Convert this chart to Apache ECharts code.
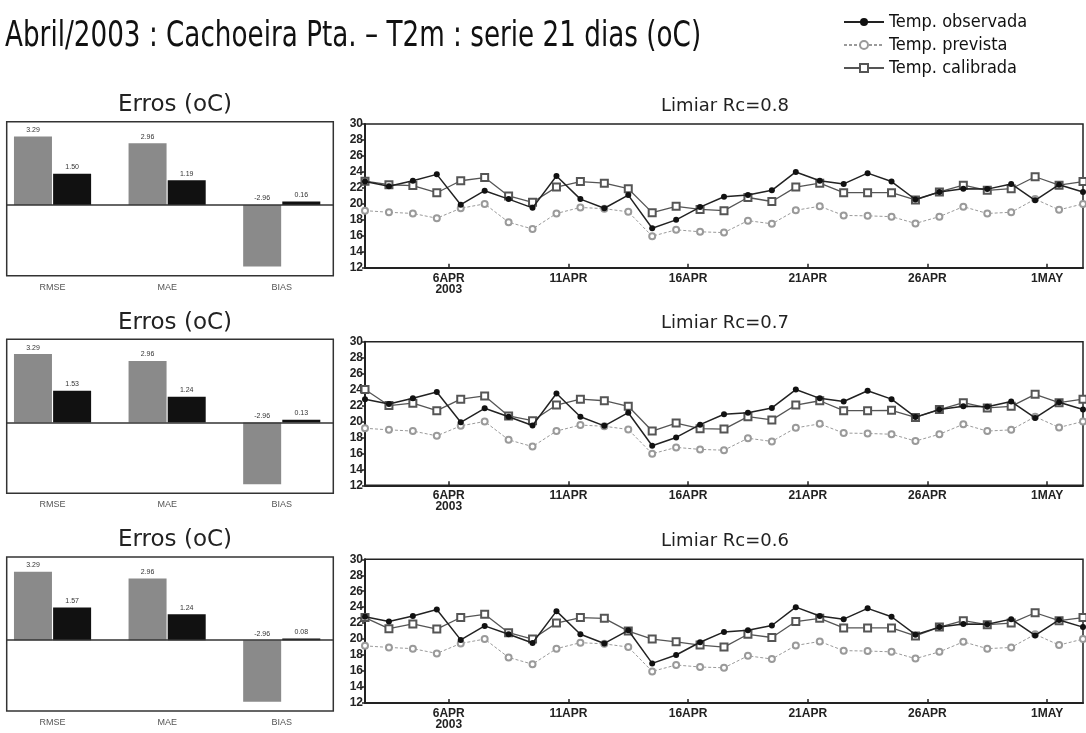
<!DOCTYPE html>
<html><head><meta charset="utf-8">
<script src="https://cdn.jsdelivr.net/npm/echarts@6/dist/echarts.min.js"></script>
<style>html,body{margin:0;padding:0;background:#fff}#c{width:1086px;height:733px}</style>
</head><body><div id="c"></div>
<script>
// ---------- data ----------
const mainTitle = 'Abril/2003 : Cachoeira Pta. \u2013 T2m : serie 21 dias (oC)';
const seriesNames = ['Temp. observada', 'Temp. prevista', 'Temp. calibrada'];
const errCategories = ['RMSE', 'MAE', 'BIAS'];
const thresholds = ['0.8', '0.7', '0.6'];
// x positions (days from first sample, 2APR 12Z) of the date ticks
const tickPositions = [3.5, 8.5, 13.5, 18.5, 23.5, 28.5];
const tickLabels = ['6APR\n2003', '11APR', '16APR', '21APR', '26APR', '1MAY'];

const observed = [22.8, 22.2, 22.9, 23.7, 19.9, 21.65, 20.6, 19.5, 23.5, 20.6, 19.45, 21.1, 16.95, 18.0, 19.6,
  20.9, 21.1, 21.7, 24.0, 22.9, 22.5, 23.85, 22.8, 20.55, 21.5, 21.9, 21.85, 22.5, 20.45, 22.4, 21.5];
const forecast = [19.15, 18.95, 18.8, 18.2, 19.45, 20.0, 17.7, 16.85, 18.8, 19.55, 19.4, 19.0, 15.95, 16.75, 16.5,
  16.4, 17.9, 17.5, 19.2, 19.7, 18.55, 18.5, 18.4, 17.55, 18.4, 19.65, 18.8, 18.95, 20.6, 19.25, 20.0];
const calib08 = [22.85, 22.4, 22.3, 21.4, 22.9, 23.3, 21.0, 20.2, 22.1, 22.8, 22.6, 21.9, 18.9, 19.7, 19.3,
  19.15, 20.8, 20.3, 22.1, 22.6, 21.4, 21.4, 21.4, 20.5, 21.5, 22.35, 21.7, 21.9, 23.4, 22.35, 22.8];
const calib07 = [24.0, 22.0, 22.3, 21.35, 22.8, 23.2, 20.7, 20.1, 22.06, 22.8, 22.6, 21.9, 18.8, 19.8, 19.1,
  19.05, 20.6, 20.2, 22.06, 22.6, 21.35, 21.35, 21.4, 20.5, 21.5, 22.35, 21.7, 21.9, 23.4, 22.35, 22.8];
const calib06 = [22.7, 21.3, 21.9, 21.25, 22.7, 23.1, 20.8, 20.0, 22.0, 22.7, 22.6, 21.0, 20.0, 19.65, 19.25,
  19.0, 20.6, 20.2, 22.2, 22.6, 21.4, 21.4, 21.4, 20.4, 21.5, 22.3, 21.8, 22.0, 23.3, 22.3, 22.7];
const calibrated = [calib08, calib07, calib06];

// error statistics (RMSE, MAE, BIAS)
const errForecast = [3.29, 2.96, -2.96];
const errCalib08 = [1.50, 1.19, 0.16];
const errCalib07 = [1.53, 1.24, 0.13];
const errCalib06 = [1.57, 1.24, 0.08];
const errCalibrated = [errCalib08, errCalib07, errCalib06];

// ---------- layout ----------
const panelStep = 217.6;
const lineTop0 = 124.1, lineH = 143.6, lineLeft = 365, lineW = 718;
const barTop0 = 121.7, barH = 154, barLeft = 6.7, barW = 326.6;
const narrow = "'Liberation Sans Narrow','DejaVu Sans Condensed',sans-serif";
const wide = "'DejaVu Sans',Verdana,sans-serif";

const toXY = arr => arr.map((v, i) => [i, v]);
const nearestLabel = (v, pos, labels) => {
  let b = 0; for (let i = 1; i < pos.length; i++) if (Math.abs(pos[i] - v) < Math.abs(pos[b] - v)) b = i;
  return labels[b];
};

const grid = [], xAxis = [], yAxis = [], series = [], title = [];

for (let p = 0; p < 3; p++) {
  const lt = lineTop0 + p * panelStep, bt = barTop0 + p * panelStep;
  grid.push({ left: barLeft, top: bt, width: barW, height: barH, show: true, borderColor: '#333', borderWidth: 1.5, backgroundColor: 'transparent' });
  grid.push({ left: lineLeft, top: lt, width: lineW, height: lineH, show: true, borderColor: '#222', borderWidth: 1.5, backgroundColor: 'transparent' });
  const gb = 2 * p, gl = 2 * p + 1;

  xAxis.push({
    gridIndex: gb, type: 'value', min: -0.4, max: 2.45,
    axisLine: { show: false }, axisTick: { show: false }, splitLine: { show: false },
    axisLabel: { customValues: [0, 1, 2], formatter: v => errCategories[Math.round(v)], fontSize: 9, color: '#555', margin: 7, fontFamily: 'Liberation Sans, sans-serif' }
  });
  yAxis.push({ gridIndex: gb, type: 'value', min: -3.4, max: 4.0, show: false, splitLine: { show: false } });

  xAxis.push({
    gridIndex: gl, type: 'value', min: 0, max: 30,
    axisLine: { show: true, lineStyle: { color: '#222', width: 2 } },
    axisTick: { show: true, customValues: tickPositions, inside: true, length: 4, lineStyle: { color: '#222', width: 1.5 } },
    splitLine: { show: false },
    axisLabel: { customValues: tickPositions, formatter: v => nearestLabel(v, tickPositions, tickLabels), fontSize: 12, fontWeight: 'bold', color: '#222', margin: 5, lineHeight: 11, fontFamily: 'Liberation Sans, Arial, sans-serif' }
  });
  yAxis.push({
    gridIndex: gl, type: 'value', min: 12, max: 30, interval: 2,
    axisLine: { show: true, lineStyle: { color: '#222', width: 2 } },
    axisTick: { show: true, length: 3, lineStyle: { color: '#222', width: 1.5 } },
    splitLine: { show: false },
    axisLabel: { fontSize: 12, fontWeight: 'bold', color: '#222', margin: 2, fontFamily: 'Liberation Sans, Arial, sans-serif' }
  });

  title.push({ text: 'Erros (oC)', left: barLeft + barW / 2, textAlign: 'center', top: bt - 33, textStyle: { fontFamily: wide, fontSize: 23, fontWeight: 'normal', color: '#222' } });
  title.push({ text: 'Limiar Rc=' + thresholds[p], left: lineLeft + lineW / 2 - 4, textAlign: 'center', top: lt - 32, textStyle: { fontFamily: wide, fontSize: 18, fontWeight: 'normal', color: '#222' } });

  const barLabel = { show: true, position: 'top', distance: 3, fontSize: 7, color: '#333', formatter: prm => prm.value[1].toFixed(2) };
  series.push({
    type: 'bar', xAxisIndex: gb, yAxisIndex: gb, barWidth: 38, barGap: '3%',
    itemStyle: { color: '#8a8a8a' }, label: barLabel,
    data: errForecast.map((v, i) => [i, v]),
    markLine: { silent: true, symbol: 'none', label: { show: false }, lineStyle: { color: '#333', width: 1.5, type: 'solid' }, data: [{ yAxis: 0 }] }
  });
  series.push({
    type: 'bar', xAxisIndex: gb, yAxisIndex: gb, barWidth: 38, barGap: '3%',
    itemStyle: { color: '#111' }, label: barLabel,
    data: errCalibrated[p].map((v, i) => [i, v])
  });

  series.push({
    name: seriesNames[1], type: 'line', xAxisIndex: gl, yAxisIndex: gl, data: toXY(forecast), z: 2,
    symbol: 'emptyCircle', symbolSize: 6, color: '#9a9a9a',
    lineStyle: { color: '#9a9a9a', width: 1, type: [3, 2] }, itemStyle: { color: '#9a9a9a', borderWidth: 1 }
  });
  series.push({
    name: seriesNames[2], type: 'line', xAxisIndex: gl, yAxisIndex: gl, data: toXY(calibrated[p]), z: 3,
    symbol: 'emptyRect', symbolSize: 7, color: '#555',
    lineStyle: { color: '#555', width: 1.3 }, itemStyle: { color: '#555', borderWidth: 1.2 }
  });
  series.push({
    name: seriesNames[0], type: 'line', xAxisIndex: gl, yAxisIndex: gl, data: toXY(observed), z: 4,
    symbol: 'circle', symbolSize: 6, color: '#222',
    lineStyle: { color: '#222', width: 1.5 }, itemStyle: { color: '#111' }
  });
}

const chart = echarts.init(document.getElementById('c'), null, { renderer: 'canvas' });
chart.setOption({
  backgroundColor: '#fff', animation: false,
  title, grid, xAxis, yAxis, series,
  graphic: [{
    type: 'text', x: 5, y: 19, scaleX: 0.81, scaleY: 1,
    style: { text: mainTitle, fontFamily: narrow, fontSize: 36, fill: '#111', textVerticalAlign: 'top', verticalAlign: 'top' }
  }],
  legend: {
    data: seriesNames, orient: 'vertical', left: 838, top: 8, itemWidth: 40, itemHeight: 10, itemGap: 5,
    textStyle: { fontFamily: narrow, fontSize: 18, color: '#111' }
  }
});
</script></body></html>
